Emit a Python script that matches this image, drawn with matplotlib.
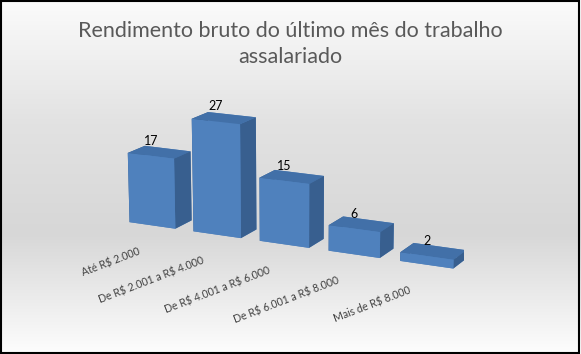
import numpy as np
import matplotlib
matplotlib.use("Agg")
import matplotlib.pyplot as plt
from matplotlib.colors import LinearSegmentedColormap
from matplotlib.patches import Rectangle
from mpl_toolkits.mplot3d import proj3d

categories = ["Até R$ 2.000", "De R$ 2.001 a R$ 4.000", "De R$ 4.001 a R$ 6.000",
              "De R$ 6.001 a R$ 8.000", "Mais de R$ 8.000"]
values = [17, 27, 15, 6, 2]

plt.rcParams['font.family'] = ['Lato', 'DejaVu Sans']

fig = plt.figure(figsize=(5.81, 3.54), dpi=100)

# background gradient
bg = fig.add_axes([0, 0, 1, 1], zorder=-10)
cmap = LinearSegmentedColormap.from_list(
    "bg", [(0.0, "#fbfbfb"), (0.35, "#e2e2e2"), (0.66, "#d7d7d7"), (1.0, "#fdfdfd")])
grad = np.linspace(0, 1, 256).reshape(-1, 1)
bg.imshow(grad, aspect='auto', cmap=cmap, extent=[0, 1, 0, 1], origin='upper')
bg.set_xticks([])
bg.set_yticks([])
bg.set_axis_off()
bg.add_patch(Rectangle((0.002, 0.004), 0.994, 0.992, transform=bg.transAxes,
                       fill=False, edgecolor='black', linewidth=1.5))

fig.text(0.5, 0.876, "Rendimento bruto do último mês do trabalho\nassalariado",
         ha='center', va='center', fontsize=15.5, color='#595959', linespacing=1.4)

ax = fig.add_axes([-0.006, -0.031, 1.0, 1.0], projection='3d', proj_type='persp',
                  focal_length=0.9)
ax.patch.set_alpha(0)
ax.set_facecolor((1, 1, 1, 0))

w = 0.72
d = 0.45
n = len(values)
xs = np.arange(n) - w / 2
ys = np.zeros(n)
zs = np.zeros(n)
front = "#4f81bd"
top = "#4270a8"
side = "#385f8f"
face_colors = []
for _ in range(n):
    # order: bottom, top, -y(front), +y(back), -x(left), +x(right)
    face_colors += [front, top, front, front, side, side]
ax.bar3d(xs, ys, zs, np.full(n, w), np.full(n, d), values,
         color=face_colors, shade=False, edgecolor='none')

ax.set_xlim(-0.5, n - 0.5)
ax.set_ylim(0, d)
ax.set_zlim(0, 27)
ax.set_box_aspect((5, 0.45, 1.55), zoom=1.1)
ax.view_init(elev=15, azim=-64)
ax.set_xticks([])
ax.set_yticks([])
ax.set_zticks([])
ax.set_axis_off()

fig.canvas.draw()
M = ax.get_proj()


def to_px(x, y, z):
    px, py, _ = proj3d.proj_transform(x, y, z, M)
    return ax.transData.transform((px, py))


for i, v in enumerate(values):
    dx, dy = to_px(i, 0, v)
    fig.text(dx, dy + 9, str(v), transform=None, ha='center', va='bottom',
             fontsize=9, color='black')
    lx, ly = to_px(i - w / 2, 0, 0)
    fig.text(lx + 8, ly - 24, categories[i].replace('$', r'\$'), transform=None,
             ha='right', va='top', rotation=21, rotation_mode='anchor',
             fontsize=7.6, color='#404040')

fig.savefig("out.png", dpi=100)
